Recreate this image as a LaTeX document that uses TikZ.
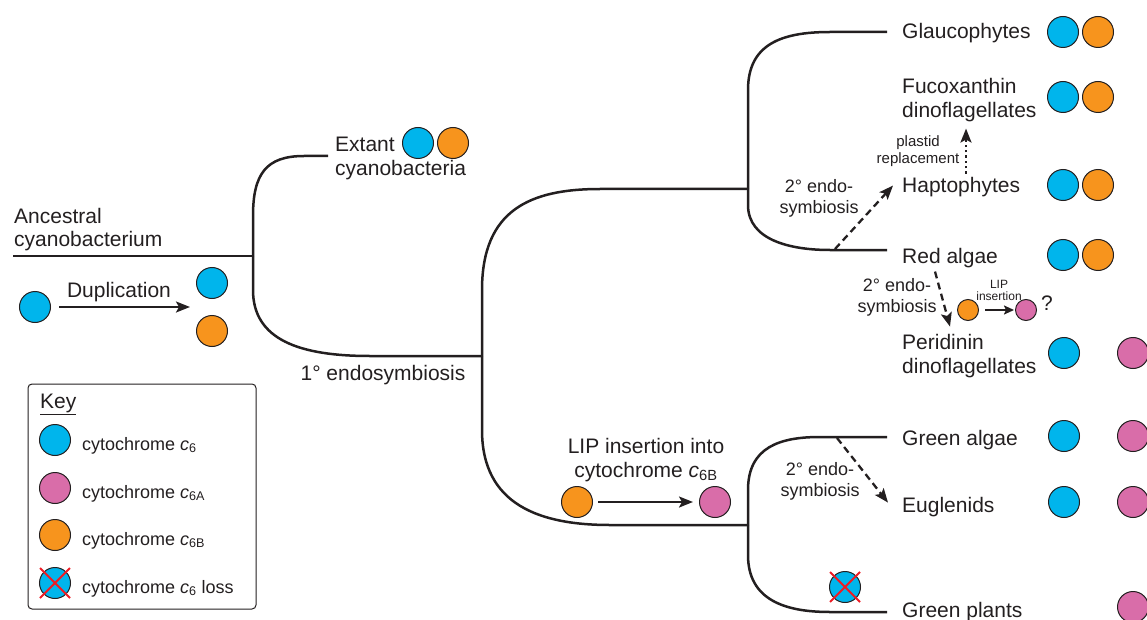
\documentclass[tikz,border=0pt]{standalone}
\usepackage{fontspec}
\setmainfont{Liberation Sans}
\usetikzlibrary{positioning, calc, arrows.meta}

\definecolor{ink}{RGB}{35,31,32}
\definecolor{cytblue}{RGB}{0,181,236}
\definecolor{cytpink}{RGB}{217,109,169}
\definecolor{cytorange}{RGB}{247,148,29}
\definecolor{lossred}{RGB}{237,28,36}

\newcommand{\taxafont}{\fontsize{21}{24}\selectfont}
\newcommand{\notefont}{\fontsize{18}{21}\selectfont}
\newcommand{\replfont}{\fontsize{15}{17}\selectfont}
\newcommand{\lipfont}{\fontsize{12}{12}\selectfont}
\newcommand{\cytc}[1]{\textit{c}\textsubscript{#1}}
\newcommand{\crossout}[1]{%
	\draw[loss] ($(#1)+(-15,-15)$) -- ($(#1)+(15,15)$);
	\draw[loss] ($(#1)+(-15,15)$) -- ($(#1)+(15,-15)$);}

\begin{document}
\begin{tikzpicture}[x=1pt, y=-1pt, color=ink, >={Stealth[length=14pt, width=11pt, inset=3pt]}]
		\tikzstyle{treeline}=[line width=2.5pt]
		\tikzstyle{cyt}=[circle, draw=ink, line width=1pt, minimum size=31pt, inner sep=0pt]
		\tikzstyle{c6}=[cyt, fill=cytblue]
		\tikzstyle{c6a}=[cyt, fill=cytpink]
		\tikzstyle{c6b}=[cyt, fill=cytorange]
		\tikzstyle{minicyt}=[minimum size=21pt]
		\tikzstyle{taxon}=[anchor=base west, inner sep=0pt, align=left, font=\taxafont]
		\tikzstyle{note}=[anchor=base, inner sep=0pt, align=center, font=\notefont]
		\tikzstyle{keytext}=[anchor=base west, inner sep=0pt, font=\notefont]
		\tikzstyle{change}=[->, line width=2.3pt]
		\tikzstyle{endo}=[->, line width=2.3pt, dash pattern=on 7pt off 4.5pt]
		\tikzstyle{replace}=[->, line width=2.3pt, dash pattern=on 2.3pt off 3pt]
		\tikzstyle{loss}=[lossred, line width=2pt]

		\useasboundingbox (0,0) rectangle (1147,620);

		% tree
		\coordinate (anc) at (13,256);
		\coordinate (n0) at (253,256);
		\coordinate (n1) at (482,356);
		\coordinate (n2) at (748,189);
		\coordinate (n3) at (748,525);
		\coordinate (tExt) at (328,156);
		\coordinate (tGla) at (887,32);
		\coordinate (tRed) at (887,250);
		\coordinate (tGre) at (887,437);
		\coordinate (tPla) at (887,612);

		\draw[treeline] (anc) -- (n0);
		\draw[treeline] (n0) -- ++(0,-40) .. controls +(0,-42) and +(-38,0) .. ($(tExt)+(-24,0)$) -- (tExt);
		\draw[treeline] (n0) -- ++(0,34) .. controls +(0,50) and +(-70,0) .. ($(n1)+(-112,0)$) -- (n1);
		\draw[treeline] (n1) -- ++(0,-66) .. controls +(0,-80) and +(-70,0) .. ($(n2)+(-148,0)$) -- (n2);
		\draw[treeline] (n1) -- ++(0,74) .. controls +(0,75) and +(-70,0) .. ($(n3)+(-138,0)$) -- (n3);
		\draw[treeline] (n2) -- ++(0,-99) .. controls +(0,-45) and +(-50,0) .. ($(tGla)+(-57,0)$) -- (tGla);
		\draw[treeline] (n2) -- ++(0,16) .. controls +(0,35) and +(-40,0) .. ($(tRed)+(-57,0)$) -- (tRed);
		\draw[treeline] (n3) -- ++(0,-35) .. controls +(0,-43) and +(-40,0) .. ($(tGre)+(-67,0)$) -- (tGre);
		\draw[treeline] (n3) -- ++(0,30) .. controls +(0,45) and +(-45,0) .. ($(tPla)+(-57,0)$) -- (tPla);

		% taxa
		\node[taxon] (ancestral) at (14,247) {Ancestral\\cyanobacterium};
		\node[taxon] (extant) at (335,176) {Extant\\cyanobacteria};
		\node[taxon] (glauco) at (902,39) {Glaucophytes};
		\node[taxon] (fucox) at (902,118) {Fucoxanthin\\dinoflagellates};
		\node[taxon] (hapto) at (902,193) {Haptophytes};
		\node[taxon] (red) at (902,263) {Red algae};
		\node[taxon] (peri) at (902,373) {Peridinin\\dinoflagellates};
		\node[taxon] (greenalg) at (902,445) {Green algae};
		\node[taxon] (eugl) at (902,512) {Euglenids};
		\node[taxon] (plants) at (902,617) {Green plants};

		% cytochromes per taxon
		\node[c6] (ext6) at (418,143) {};
		\node[c6b] (ext6b) at (453,143) {};
		\node[c6] (gla6) at (1063,32) {};
		\node[c6b] (gla6b) at (1098,32) {};
		\node[c6] (fuc6) at (1063,97) {};
		\node[c6b] (fuc6b) at (1098,97) {};
		\node[c6] (hap6) at (1063,185) {};
		\node[c6b] (hap6b) at (1098,185) {};
		\node[c6] (red6) at (1063,255) {};
		\node[c6b] (red6b) at (1098,255) {};
		\node[c6] (per6) at (1064,353) {};
		\node[c6a] (per6a) at (1133,353) {};
		\node[c6] (gre6) at (1064,436) {};
		\node[c6a] (gre6a) at (1133,436) {};
		\node[c6] (eug6) at (1064,502) {};
		\node[c6a] (eug6a) at (1133,502) {};
		\node[c6a] (pla6a) at (1133,607) {};
		\node[c6] (pla6) at (845,587) {};
		\crossout{pla6}

		% duplication
		\node[c6] (dupsrc) at (35,307) {};
		\node[c6] (dup6) at (212,283) {};
		\node[c6b] (dup6b) at (212,331) {};
		\coordinate (duptip) at (190,307);
		\node[note, font=\taxafont] (dupl) at (119,297) {Duplication};
		\draw[change, shorten <=8pt] (dupsrc) -- (duptip);

		\node[note, font=\taxafont] (primary) at (383,380) {1° endosymbiosis};

		% LIP insertion
		\node[note, font=\taxafont] (lip) at (646,477) {LIP insertion into\\cytochrome \cytc{6B}};
		\node[c6b] (lipsrc) at (577,502) {};
		\node[c6a] (lipdst) at (715,502) {};
		\draw[change, shorten <=5pt, shorten >=6pt] (lipsrc) -- (lipdst);

		% secondary endosymbioses
		\coordinate (sRed) at (835,249);
		\coordinate (sGre) at (837,438);
		\node[note] (endoA) at (819,214) {2° endo-\\symbiosis};
		\node[note] (endoB) at (897,312) {2° endo-\\symbiosis};
		\node[note] (endoC) at (820,496) {2° endo-\\symbiosis};
		\draw[endo] (sRed) -- ($(hapto.west)+(-9,-2)$);
		\draw[endo] ($(red.south west)+(33,4)$) -- ($(peri.north west)+(48,-7)$);
		\draw[endo] (sGre) -- ($(eugl.west)+(-14,-4)$);

		\node[note, font=\replfont] (repl) at (918,164) {plastid\\replacement};
		\draw[replace] ($(hapto.north west)+(64,-4)$) -- ($(fucox.south west)+(64,6)$);

		% peridinin LIP insertion
		\node[c6b, minicyt] (pso) at (968,310) {};
		\node[c6a, minicyt] (psp) at (1026,310) {};
		\node[note, font=\lipfont] (liptxt) at (999,300) {LIP\\insertion};
		\node[note, font=\taxafont] (query) at (1047,310) {?};
		\draw[->, >={Stealth[length=10pt, width=9pt, inset=2pt]}, line width=2pt, shorten <=6pt, shorten >=1pt] (pso) -- (psp);

		% key
		\node[draw, line width=1pt, rounded corners=4pt, minimum width=228pt, minimum height=225pt, inner sep=0pt] (key) at (142,496.5) {};
		\node[keytext, font=\taxafont] (keytitle) at (40,408) {\underline{Key}};
		\node[c6] (k6) at (55,440) {};
		\node[keytext] at (82,450) {cytochrome \cytc{6}};
		\node[c6a] (k6a) at (55,488) {};
		\node[keytext] at (82,498) {cytochrome \cytc{6A}};
		\node[c6b] (k6b) at (55,535) {};
		\node[keytext] at (82,545) {cytochrome \cytc{6B}};
		\node[c6] (kloss) at (55,583) {};
		\crossout{kloss}
		\node[keytext] at (82,593) {cytochrome \cytc{6} loss};

	\end{tikzpicture}
\end{document}
